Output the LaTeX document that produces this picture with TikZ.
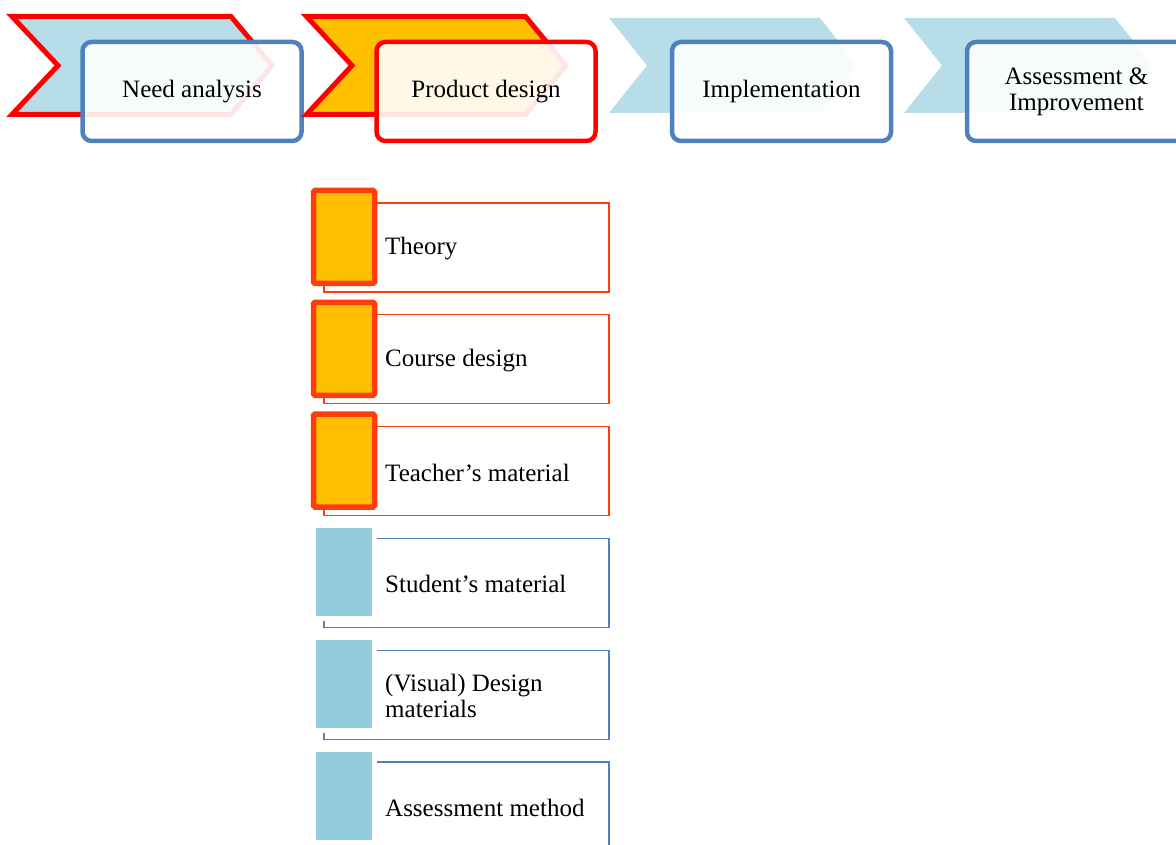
\documentclass[tikz,border=0pt]{standalone}
\usepackage{fontspec}
\setmainfont{Liberation Serif}
\definecolor{chevblue}{RGB}{183,222,232}
\definecolor{boxblue}{RGB}{79,129,189}
\definecolor{hotred}{RGB}{255,0,0}
\definecolor{itemred}{RGB}{255,60,10}
\definecolor{amber}{RGB}{255,192,0}
\definecolor{tabblue}{RGB}{147,205,221}
\tikzset{
  chev/.style={fill=chevblue},
  chevhot/.style={draw=hotred, line width=5pt, line join=miter},
  topbox/.style={draw=#1, line width=4.5pt, rounded corners=9pt, fill=white,
    fill opacity=0.9, text opacity=1, minimum width=219pt, minimum height=99pt,
    inner sep=0pt, align=center, font=\fontsize{25}{26}\selectfont},
  itemboxhot/.style={draw=itemred, line width=1.3pt, minimum width=285pt,
    minimum height=89pt, inner sep=0pt},
  itemboxcool/.style={draw=boxblue, line width=1.4pt, minimum width=285pt,
    minimum height=89pt, inner sep=0pt},
  tabgap/.style={fill=white, minimum width=66pt, minimum height=98pt, inner sep=0pt},
  tabhot/.style={fill=amber, draw=itemred, line width=5.5pt, rounded corners=1.5pt,
    minimum width=61pt, minimum height=93pt, inner sep=0pt},
  tabcool/.style={fill=tabblue, minimum width=56pt, minimum height=88pt, inner sep=0pt},
  itemtext/.style={anchor=west, inner sep=0pt, align=left,
    font=\fontsize{25}{26}\selectfont},
}
% one entry of the product-design list: #1 name, #2 top edge, #3 hot/cool, #4 text
\newcommand{\planitem}[4]{%
  \node[itembox#3] (#1) at (466.5,#2+44.5) {};
  \node[tabgap] (#1-gap) at (344,#2+34) {};
  \node[tab#3] (#1-tab) at (344,#2+34) {};
  \node[itemtext] (#1-text) at (385,#2+46) {#4};
}
\begin{document}
\begin{tikzpicture}[x=1pt,y=-1pt]
\useasboundingbox (0,0) rectangle (1176,845);
\clip (0,0) rectangle (1176,845);

% phase 1: need analysis
\fill[chev] (12,16.5) -- (231,16.5) -- (272,65.5) -- (231,114.5) -- (12,114.5) -- (58,65.5) -- cycle;
\draw[chevhot] (12,16.5) -- (231,16.5) -- (272,65.5) -- (231,114.5) -- (12,114.5) -- (58,65.5) -- cycle;
\node[topbox=boxblue] (need) at (192,91.5) {Need analysis};

% phase 2: product design (highlighted)
\fill[amber] (306.5,16.5) -- (525.5,16.5) -- (566,65.5) -- (525.5,114.5) -- (306.5,114.5) -- (352,65.5) -- cycle;
\draw[chevhot] (306.5,16.5) -- (525.5,16.5) -- (566,65.5) -- (525.5,114.5) -- (306.5,114.5) -- (352,65.5) -- cycle;
\node[topbox=hotred] (product) at (486,91.5) {Product design};

% phase 3: implementation
\fill[chev] (609,18) -- (820,18) -- (857,65.5) -- (820,113) -- (609,113) -- (647,65.5) -- cycle;
\node[topbox=boxblue] (impl) at (781.5,91.5) {Implementation};

% phase 4: assessment and improvement
\fill[chev] (904,18) -- (1115,18) -- (1153,65.5) -- (1115,113) -- (904,113) -- (942,65.5) -- cycle;
\node[topbox=boxblue] (assess) at (1076.5,91.5) {Assessment \&\\Improvement};

% list under product design
\planitem{theory}{203}{hot}{Theory}
\planitem{course}{314.8}{hot}{Course design}
\planitem{teacher}{426.6}{hot}{Teacher’s material}
\planitem{student}{538.4}{cool}{Student’s material}
\planitem{visual}{650.2}{cool}{(Visual) Design\\materials}
\planitem{method}{762}{cool}{Assessment method}
\end{tikzpicture}
\end{document}
